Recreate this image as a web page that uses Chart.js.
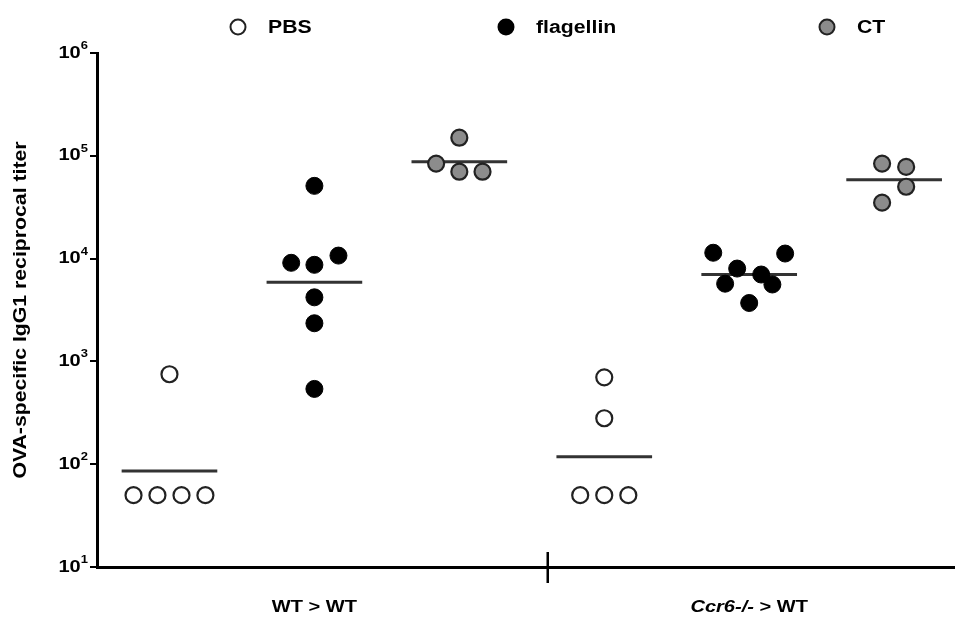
<!DOCTYPE html>
<html lang="en">
<head>
    <meta charset="UTF-8">
    <title>OVA-specific IgG1 titer</title>
    <script src="https://cdn.jsdelivr.net/npm/chart.js"></script>
    <style>
        body {
            margin: 0;
            background-color: #fff;
        }
        .chart-box {
            width: 955px;
            height: 621px;
        }
    </style>
</head>
<body>
    <div class="chart-box">
        <canvas id="titerChart"></canvas>
    </div>

    <script>
        // groups along the x axis, each one holds three treatment slots
        const groupLabels = ['WT > WT', 'Ccr6-/- > WT'];
        const seriesNames = ['PBS', 'flagellin', 'CT'];
        const yTitle = 'OVA-specific IgG1 reciprocal titer';
        const yTicks = [10, 100, 1000, 10000, 100000, 1000000];

        // slot 1..3 = WT > WT, slot 4..6 = Ccr6-/- > WT; small offsets are the jitter seen in the figure
        const pbsX = [1.0, 0.752, 0.917, 1.083, 1.248, 4.0, 4.0, 3.834, 4.0, 4.166];
        const pbsY = [750, 50, 50, 50, 50, 700, 280, 50, 50, 50];

        const flagX = [2.0, 1.84, 2.0, 2.166, 2.0, 2.0, 2.0, 4.752, 5.248, 4.917, 5.083, 4.834, 5.16, 5.0];
        const flagY = [51000, 9100, 8700, 10700, 4200, 2350, 540, 11400, 11200, 8000, 7000, 5700, 5600, 3700];

        const ctX = [3.0, 2.84, 3.0, 3.16, 5.917, 6.083, 6.083, 5.917];
        const ctY = [150000, 84000, 70000, 70000, 84000, 78000, 50000, 35000];

        // geometric means drawn as short bars
        const meanSlots = [1, 2, 3, 4, 5, 6];
        const meanValues = [86, 5900, 87500, 118, 7000, 58500];

        const toPoints = (xs, ys) => xs.map((x, i) => ({ x: x, y: ys[i] }));

        const meanPoints = [];
        meanSlots.forEach((s, i) => {
            meanPoints.push({ x: s - 0.33, y: meanValues[i] });
            meanPoints.push({ x: s + 0.33, y: meanValues[i] });
            meanPoints.push({ x: s, y: null });
        });

        const fontFamily = '"Liberation Sans", Arial, sans-serif';
        const stretch = 1.18; // the figure's lettering is a bit wider than plain Arial

        const markerStyles = [
            { fill: '#ffffff', stroke: '#222222' },
            { fill: '#000000', stroke: '#000000' },
            { fill: '#8c8c8c', stroke: '#222222' }
        ];

        // draws text widened along its own direction, returns the drawn width
        function wideText(ctx, text, x, y, font, align) {
            ctx.font = font;
            const w = ctx.measureText(text).width * stretch;
            let left = x;
            if (align === 'center') left = x - w / 2;
            if (align === 'right') left = x - w;
            ctx.save();
            ctx.translate(left, y);
            ctx.scale(stretch, 1);
            ctx.textAlign = 'left';
            ctx.fillText(text, 0, 0);
            ctx.restore();
            return w;
        }

        function textWidth(ctx, text, font) {
            ctx.font = font;
            return ctx.measureText(text).width * stretch;
        }

        // legend across the top, drawn by hand so the wide spacing can be kept
        const topLegend = {
            id: 'topLegend',
            afterDraw(chart) {
                const ctx = chart.ctx;
                const spots = [238, 506, 827];
                ctx.save();
                ctx.textBaseline = 'middle';
                ctx.fillStyle = '#000';
                seriesNames.forEach((name, i) => {
                    ctx.beginPath();
                    ctx.arc(spots[i], 27, 7.5, 0, Math.PI * 2);
                    ctx.fillStyle = markerStyles[i].fill;
                    ctx.fill();
                    ctx.lineWidth = 2;
                    ctx.strokeStyle = markerStyles[i].stroke;
                    ctx.stroke();
                    ctx.fillStyle = '#000';
                    wideText(ctx, name, spots[i] + 30, 28, 'bold 18px ' + fontFamily, 'left');
                });
                ctx.restore();
            }
        };

        // y tick labels as 10 with a raised exponent, plus the rotated axis title
        const yLabels = {
            id: 'yLabels',
            afterDraw(chart) {
                const ctx = chart.ctx;
                const ys = chart.scales.y;
                const axisX = chart.chartArea.left;
                const big = 'bold 17px ' + fontFamily;
                const small = 'bold 11px ' + fontFamily;
                ctx.save();
                ctx.fillStyle = '#000';
                ctx.textBaseline = 'middle';
                yTicks.forEach(v => {
                    const py = ys.getPixelForValue(v);
                    const exp = String(Math.round(Math.log10(v)));
                    const right = axisX - 9;
                    const ew = textWidth(ctx, exp, small);
                    wideText(ctx, exp, right, py - 7, small, 'right');
                    wideText(ctx, '10', right - ew, py, big, 'right');
                });

                const cy = (chart.chartArea.top + chart.chartArea.bottom) / 2;
                ctx.translate(21, cy);
                ctx.rotate(-Math.PI / 2);
                wideText(ctx, yTitle, 0, 0, 'bold 18px ' + fontFamily, 'center');
                ctx.restore();
            }
        };

        // group names under the x axis plus the divider tick between them
        const groupAxis = {
            id: 'groupAxis',
            afterDraw(chart) {
                const ctx = chart.ctx;
                const xs = chart.scales.x;
                const bottom = chart.chartArea.bottom;
                ctx.save();
                ctx.strokeStyle = '#000';
                ctx.lineWidth = 2.5;
                const mid = xs.getPixelForValue(3.61);
                ctx.beginPath();
                ctx.moveTo(mid, bottom - 15);
                ctx.lineTo(mid, bottom + 16);
                ctx.stroke();

                ctx.textBaseline = 'middle';
                ctx.fillStyle = '#000';
                const bold = 'bold 17px ' + fontFamily;
                const italic = 'italic bold 17px ' + fontFamily;
                groupLabels.forEach((label, i) => {
                    const cx = xs.getPixelForValue(i * 3 + 2);
                    const m = label.match(/^(Ccr6-\/-)(.*)$/);
                    const parts = m ? [[m[1], italic], [m[2], bold]] : [[label, bold]];
                    let total = 0;
                    parts.forEach(p => { total += textWidth(ctx, p[0], p[1]); });
                    let x = cx - total / 2;
                    parts.forEach(p => {
                        x += wideText(ctx, p[0], x, 607, p[1], 'left');
                    });
                });
                ctx.restore();
            }
        };

        new Chart(document.getElementById('titerChart'), {
            type: 'scatter',
            data: {
                datasets: [
                    {
                        label: 'mean',
                        type: 'line',
                        data: meanPoints,
                        borderColor: '#333333',
                        borderWidth: 3,
                        pointRadius: 0,
                        spanGaps: false,
                        order: 5
                    },
                    {
                        label: seriesNames[0],
                        data: toPoints(pbsX, pbsY),
                        pointRadius: 8,
                        pointBorderWidth: 2.2,
                        backgroundColor: markerStyles[0].fill,
                        borderColor: markerStyles[0].stroke
                    },
                    {
                        label: seriesNames[1],
                        data: toPoints(flagX, flagY),
                        pointRadius: 8.5,
                        pointBorderWidth: 1,
                        backgroundColor: markerStyles[1].fill,
                        borderColor: markerStyles[1].stroke
                    },
                    {
                        label: seriesNames[2],
                        data: toPoints(ctX, ctY),
                        pointRadius: 8,
                        pointBorderWidth: 2.2,
                        backgroundColor: markerStyles[2].fill,
                        borderColor: markerStyles[2].stroke
                    }
                ]
            },
            options: {
                responsive: true,
                maintainAspectRatio: false,
                animation: false,
                layout: {
                    autoPadding: false,
                    padding: { top: 53, bottom: 54, left: 0, right: 0 }
                },
                plugins: {
                    legend: { display: false },
                    tooltip: { enabled: false }
                },
                scales: {
                    x: {
                        type: 'linear',
                        min: 0.5,
                        max: 6.42,
                        ticks: { display: false },
                        grid: { display: false },
                        border: { display: true, color: '#000', width: 3 },
                        afterFit: s => { s.height = 0; }
                    },
                    y: {
                        type: 'logarithmic',
                        min: 10,
                        max: 1000000,
                        afterBuildTicks: s => { s.ticks = yTicks.map(v => ({ value: v })); },
                        afterFit: s => { s.width = 97; },
                        ticks: { display: false },
                        grid: {
                            drawOnChartArea: false,
                            drawTicks: true,
                            tickLength: 7,
                            color: '#000',
                            lineWidth: 2
                        },
                        border: { display: true, color: '#000', width: 3 }
                    }
                }
            },
            plugins: [topLegend, yLabels, groupAxis]
        });
    </script>
</body>
</html>
